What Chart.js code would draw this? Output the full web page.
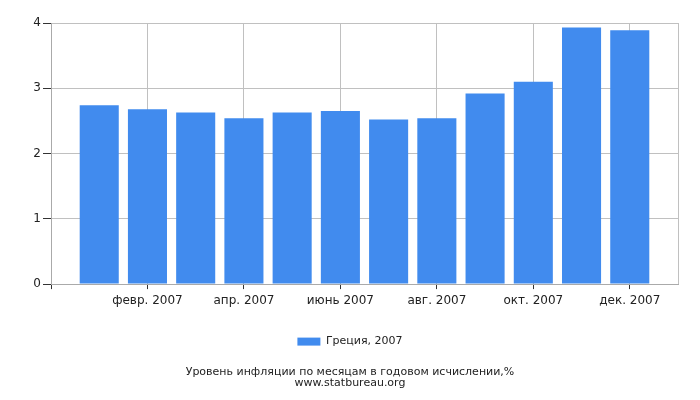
<!DOCTYPE html>
<html>
<head>
<meta charset="utf-8">
<script src="https://cdn.jsdelivr.net/npm/chart.js@4"></script>
<style>
  html, body { margin: 0; padding: 0; background: #fff; }
  #wrap { width: 700px; height: 400px; }
</style>
</head>
<body>
<div id="wrap"><canvas id="chart" width="700" height="400"></canvas></div>
<script>
// Months 0..11 (Jan..Dec 2007)
const months = [0, 1, 2, 3, 4, 5, 6, 7, 8, 9, 10, 11];
const inflation = [2.74, 2.68, 2.63, 2.54, 2.63, 2.65, 2.52, 2.54, 2.92, 3.10, 3.93, 3.89];

// Tick positions on the month axis and their labels
const tickPositions = [-1, 1, 3, 5, 7, 9, 11, 12];
const tickLabels = ['', 'февр. 2007', 'апр. 2007', 'июнь 2007', 'авг. 2007', 'окт. 2007', 'дек. 2007', ''];

const seriesLabel = 'Греция, 2007';
const titleLines = ['Уровень инфляции по месяцам в годовом исчислении,%', 'www.statbureau.org'];

const font = 'DejaVu Sans';

new Chart(document.getElementById('chart').getContext('2d'), {
    type: 'bar',
    data: {
        datasets: [{
            label: seriesLabel,
            data: months.map((m, i) => ({ x: m, y: inflation[i] })),
            backgroundColor: '#418bee',
            borderWidth: 0,
            barPercentage: 0.81,
            categoryPercentage: 1
        }]
    },
    options: {
        responsive: false,
        animation: false,
        layout: { padding: { top: 23, right: 0, left: 0, bottom: 0 } },
        plugins: {
            legend: {
                position: 'bottom',
                labels: {
                    boxWidth: 23,
                    boxHeight: 8,
                    padding: 8,
                    color: '#222',
                    font: { family: font, size: 11 }
                }
            },
            title: {
                display: true,
                position: 'bottom',
                text: titleLines,
                color: '#222',
                font: { family: font, size: 11, weight: 'normal', lineHeight: 0.95 },
                padding: { top: 10, bottom: 12 }
            },
            tooltip: { enabled: false }
        },
        scales: {
            x: {
                type: 'linear',
                min: -1,
                max: 12,
                offset: false,
                afterBuildTicks: scale => {
                    scale.ticks = tickPositions.map(v => ({ value: v }));
                },
                ticks: {
                    autoSkip: false,
                    maxRotation: 0,
                    color: '#222',
                    padding: 5,
                    font: { family: font, size: 12 },
                    callback: value => tickLabels[tickPositions.indexOf(value)]
                },
                grid: {
                    offset: false,
                    color: '#c0c0c0',
                    tickLength: 5,
                    tickColor: ctx => (ctx.tick && (ctx.tick.value === 12)) ? 'rgba(0,0,0,0)' : '#333'
                },
                border: { color: '#aaaaaa' },
                afterFit: scale => { scale.height = 44; }
            },
            y: {
                min: 0,
                max: 4,
                ticks: {
                    stepSize: 1,
                    color: '#222',
                    padding: 2,
                    font: { family: font, size: 12 }
                },
                grid: {
                    color: '#c0c0c0',
                    tickLength: 8,
                    tickColor: '#333'
                },
                border: { color: '#aaaaaa' },
                afterFit: scale => { scale.width = 51; }
            },
            // empty spacer on the right so the legend/title stay centred on the canvas
            spacer: {
                position: 'right',
                display: true,
                ticks: { display: false },
                grid: { display: false, drawTicks: false },
                border: { display: false },
                afterFit: scale => { scale.width = 22; }
            }
        }
    }
});
</script>
</body>
</html>
